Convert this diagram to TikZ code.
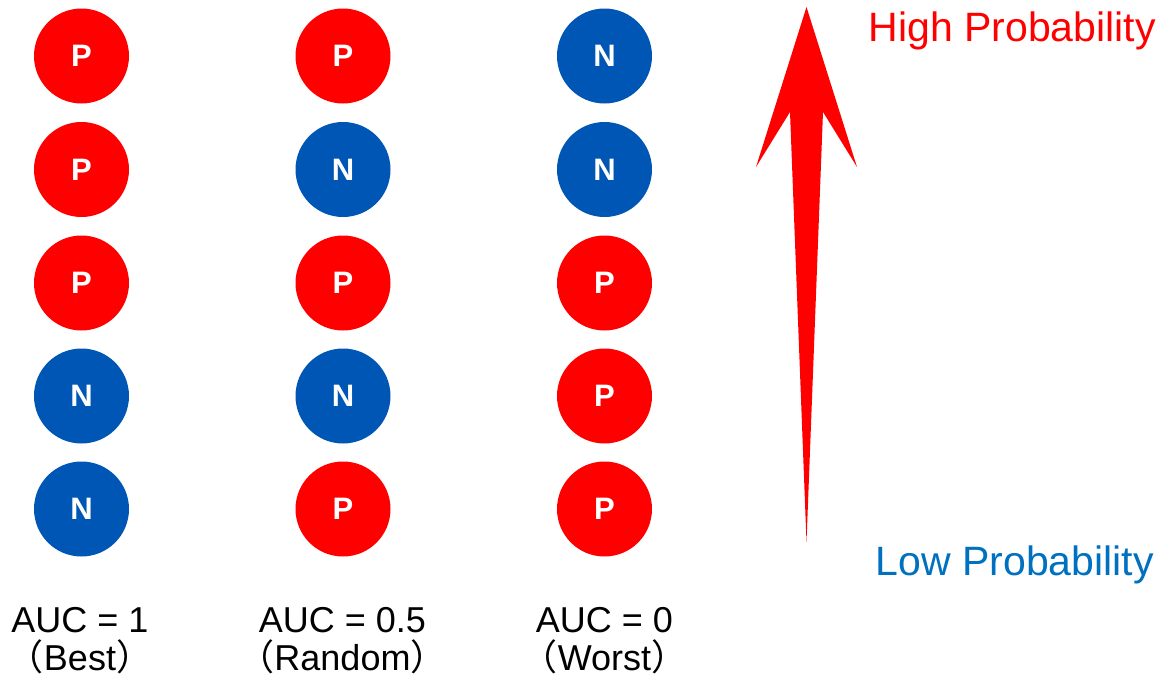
\documentclass[tikz,border=0pt]{standalone}
\usepackage{fontspec}
\setmainfont{Liberation Sans}
\newfontfamily\cjk{Noto Sans CJK JP}
\definecolor{pred}{RGB}{255,0,0}
\definecolor{nblue}{RGB}{0,86,180}
\definecolor{lowblue}{RGB}{0,112,192}
\begin{document}
\begin{tikzpicture}[x=1pt,y=-1pt,
  ball/.style={circle,minimum size=95pt,inner sep=0pt,text=white,font=\fontsize{31}{31}\selectfont\bfseries},
  posball/.style={ball,fill=pred},
  negball/.style={ball,fill=nblue},
  auc/.style={anchor=base,align=center,font=\fontsize{36}{38}\selectfont,inner sep=0pt},
  prob/.style={anchor=base east,inner sep=0pt,font=\fontsize{41}{41}\selectfont}]
\useasboundingbox (0,0) rectangle (1171,683);
% column 1
\node[posball] (a1) at (81.5,56) {P};
\node[posball] (a2) at (81.5,169.5) {P};
\node[posball] (a3) at (81.5,283) {P};
\node[negball] (a4) at (81.5,396) {N};
\node[negball] (a5) at (81.5,509) {N};
% column 2
\node[posball] (b1) at (343,56) {P};
\node[negball] (b2) at (343,169.5) {N};
\node[posball] (b3) at (343,283) {P};
\node[negball] (b4) at (343,396) {N};
\node[posball] (b5) at (343,509) {P};
% column 3
\node[negball] (c1) at (604.5,56) {N};
\node[negball] (c2) at (604.5,169.5) {N};
\node[posball] (c3) at (604.5,283) {P};
\node[posball] (c4) at (604.5,396) {P};
\node[posball] (c5) at (604.5,509) {P};
% labels
\node[auc] (la) at (80,670) {AUC = 1\\{\cjk （}Best{\cjk ）}};
\node[auc] (lb) at (342.5,670) {AUC = 0.5\\{\cjk （}Random{\cjk ）}};
\node[auc] (lc) at (604.5,670) {AUC = 0\\{\cjk （}Worst{\cjk ）}};
% arrow
\fill[pred] (806.5,7) -- (857,167) -- (823,112) -- (806.5,542) -- (790,112) -- (756,167) -- cycle;
\node[prob,text=pred] (hi) at (1156,41) {High Probability};
\node[prob,text=lowblue] (lo) at (1154,575) {Low Probability};
\end{tikzpicture}
\end{document}
